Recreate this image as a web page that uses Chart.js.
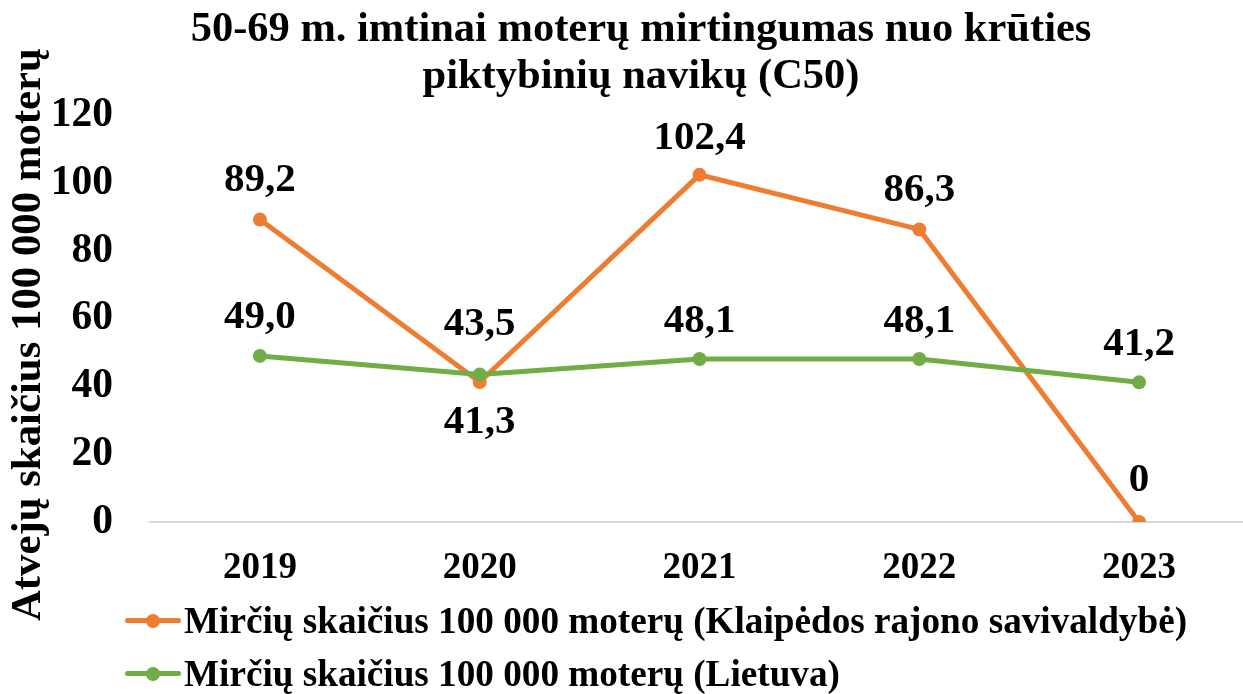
<!DOCTYPE html>
<html><head><meta charset="utf-8">
<script src="https://cdn.jsdelivr.net/npm/chart.js@4"></script>
<style>
html,body{margin:0;padding:0;overflow:hidden;background:#fff;width:1243px;height:694px}
#wrap{position:relative;width:1256px;height:694px}
#legend{position:absolute;left:125px;top:594px;font:bold 37.2px "Liberation Serif";color:#000}
.row{height:53px;display:flex;align-items:center;white-space:nowrap}
.mk{position:relative;width:56px;height:14px;margin-right:3px;flex:none}
.mk .ln{position:absolute;left:0;right:0;top:4.5px;height:5px;border-radius:2.5px}
.mk .dt{position:absolute;left:21px;top:0;width:14px;height:14px;border-radius:50%}
</style></head>
<body><div id="wrap"><canvas id="c" width="1256" height="694"></canvas><div id="legend"></div></div>
<script>
const categories = ['2019', '2020', '2021', '2022', '2023'];
const klaipedaValues = [89.2, 41.3, 102.4, 86.3, 0];
const lietuvaValues = [49.0, 43.5, 48.1, 48.1, 41.2];
const klaipedaLabels = ['89,2', '41,3', '102,4', '86,3', '0'];
const lietuvaLabels = ['49,0', '43,5', '48,1', '48,1', '41,2'];
const yTicks = [0, 20, 40, 60, 80, 100, 120];
const seriesNames = ['Mirčių skaičius 100 000 moterų (Klaipėdos rajono savivaldybė)', 'Mirčių skaičius 100 000 moterų (Lietuva)'];
const titleLines = ['50-69 m. imtinai moterų mirtingumas nuo krūties', 'piktybinių navikų (C50)'];
const yTitle = 'Atvejų skaičius 100 000 moterų';

const ORANGE = '#ED7D31', GREEN = '#70AD47';
const FAM = '"Liberation Serif", "Times New Roman", serif';

const labelPlugin = {
  id: 'valueLabels',
  afterDatasetsDraw(chart) {
    const ctx = chart.ctx;
    ctx.save();
    ctx.font = 'bold 41px ' + FAM;
    ctx.fillStyle = '#000';
    ctx.textAlign = 'center';
    ctx.textBaseline = 'middle';
    chart.data.datasets.forEach((ds, i) => {
      const meta = chart.getDatasetMeta(i);
      meta.data.forEach((pt, j) => {
        const off = ds.labelOffsets ? ds.labelOffsets[j] : -38;
        ctx.fillText(ds.valueLabels[j], pt.x, pt.y + off);
      });
    });
    ctx.restore();
  }
};

const yTitlePlugin = {
  id: 'yTitle',
  afterDraw(chart) {
    const ctx = chart.ctx;
    ctx.save();
    ctx.font = 'bold 42.8px ' + FAM;
    ctx.fillStyle = '#000';
    ctx.textAlign = 'center';
    ctx.textBaseline = 'middle';
    ctx.translate(29, (chart.chartArea.top + chart.chartArea.bottom) / 2 + 16);
    ctx.rotate(-Math.PI / 2);
    ctx.fillText(yTitle, 0, 0);
    ctx.restore();
  }
};

const chart = new Chart(document.getElementById('c'), {
  type: 'line',
  data: {
    labels: categories,
    datasets: [
      {
        label: seriesNames[1], data: lietuvaValues, valueLabels: lietuvaLabels,
        labelOffsets: [-38, -50, -38, -38, -38],
        borderColor: GREEN, backgroundColor: GREEN, borderWidth: 5,
        pointRadius: 7, pointBorderWidth: 0, pointBackgroundColor: GREEN, tension: 0
      },
      {
        label: seriesNames[0], data: klaipedaValues, valueLabels: klaipedaLabels,
        labelOffsets: [-39, 40, -36, -39, -42],
        borderColor: ORANGE, backgroundColor: ORANGE, borderWidth: 5,
        pointRadius: 7, pointBorderWidth: 0, pointBackgroundColor: ORANGE, tension: 0
      }
    ]
  },
  options: {
    responsive: false,
    animation: false,
    layout: { padding: { left: 26, right: 0, top: 0, bottom: 0 } },
    plugins: {
      legend: { display: false },
      tooltip: { enabled: false },
      title: {
        display: true, text: titleLines, color: '#000',
        font: { family: FAM, size: 42.5, weight: 'bold', lineHeight: 1.12 },
        padding: { top: 6, bottom: 14 }
      }
    },
    scales: {
      x: {
        offset: true,
        grid: { display: false, drawTicks: false },
        border: { display: true, color: '#d9d9d9', width: 2 },
        ticks: { color: '#000', font: { family: FAM, size: 37, weight: 'bold' }, padding: 24 },
        afterFit(s) { s.height = 172; s.paddingLeft = 0; s.paddingRight = 0; }
      },
      y: {
        min: 0, max: 120,
        afterBuildTicks(s) { s.ticks = yTicks.map(v => ({ value: v })); },
        grid: { display: false, drawTicks: false },
        border: { display: false },
        ticks: { color: '#000', font: { family: FAM, size: 41.5, weight: 'bold' }, padding: 37 },
        afterFit(s) { s.width = 124; }
      }
    }
  },
  plugins: [labelPlugin, yTitlePlugin]
});

const legend = document.getElementById('legend');
[[seriesNames[0], ORANGE], [seriesNames[1], GREEN]].forEach(([name, col]) => {
  const row = document.createElement('div');
  row.className = 'row';
  row.innerHTML = '<span class="mk"><span class="ln" style="background:' + col + '"></span><span class="dt" style="background:' + col + '"></span></span><span>' + name + '</span>';
  legend.appendChild(row);
});
</script>
</body></html>
